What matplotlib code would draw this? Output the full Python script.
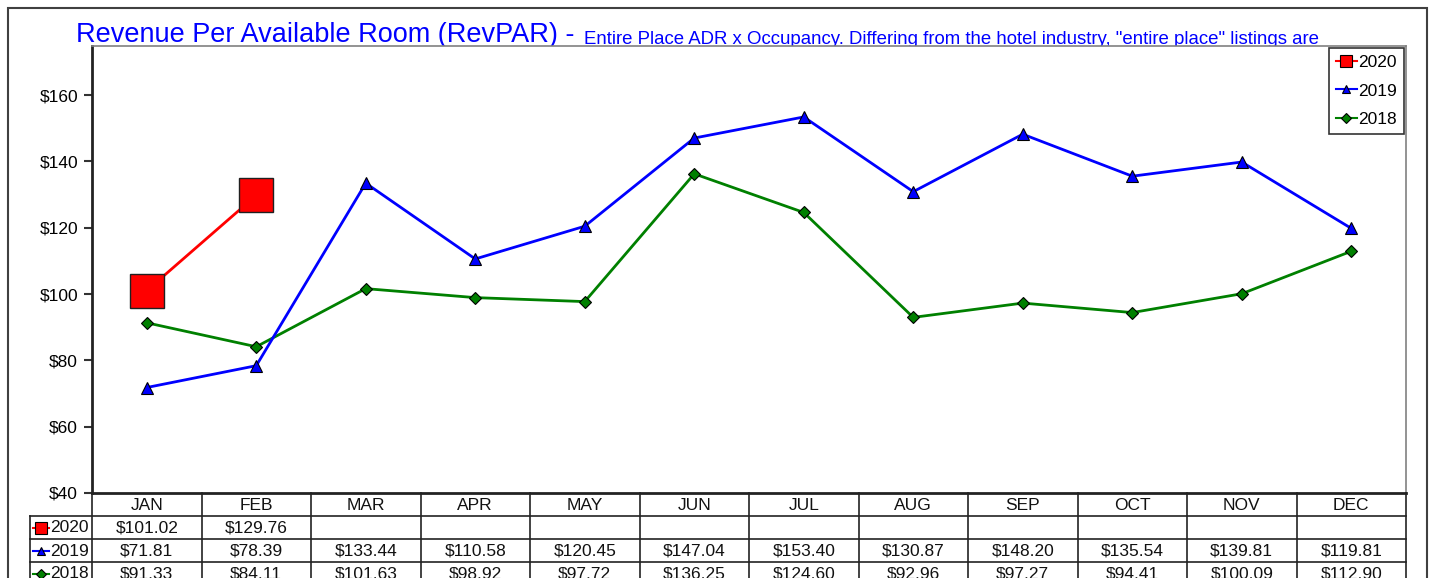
import matplotlib
matplotlib.use("Agg")
import matplotlib.pyplot as plt
from matplotlib.lines import Line2D
from matplotlib.patches import Rectangle

months = ["JAN", "FEB", "MAR", "APR", "MAY", "JUN", "JUL", "AUG", "SEP", "OCT", "NOV", "DEC"]
rev_2020 = [101.02, 129.76]
rev_2019 = [71.81, 78.39, 133.44, 110.58, 120.45, 147.04, 153.40, 130.87, 148.20, 135.54, 139.81, 119.81]
rev_2018 = [91.33, 84.11, 101.63, 98.92, 97.72, 136.25, 124.60, 92.96, 97.27, 94.41, 100.09, 112.90]
yticks = [40, 60, 80, 100, 120, 140, 160]
title_main = "Revenue Per Available Room (RevPAR) - "
title_sub = 'Entire Place ADR x Occupancy. Differing from the hotel industry, "entire place" listings are'

plt.rcParams['font.family'] = ['Liberation Sans', 'DejaVu Sans']

W, H = 1436, 578
fig = plt.figure(figsize=(W / 100, H / 100), dpi=100)

def fx(px):
    return px / W

def fy(py):
    return 1 - py / H

# outer frame
fig.patches.append(Rectangle((fx(8), fy(600)), fx(1427) - fx(8), fy(8) - fy(600),
                             transform=fig.transFigure, fill=False, edgecolor="#404040",
                             linewidth=1.5, zorder=-2))

L, R, T, B = 92, 1406, 46, 493
ax = fig.add_axes([fx(L), fy(B), fx(R) - fx(L), fy(T) - fy(B)])
ax.set_zorder(1)

x = list(range(12))
ax.plot(x[:len(rev_2018)], rev_2018, color="#008000", lw=2, marker="D", ms=6,
        mfc="#008000", mec="black", mew=0.8, label="2018", zorder=3)
ax.plot(x[:len(rev_2019)], rev_2019, color="#0000ff", lw=2, marker="^", ms=8,
        mfc="#0000ff", mec="black", mew=0.8, label="2019", zorder=4)
ax.plot(x[:len(rev_2020)], rev_2020, color="#ff0000", lw=2, marker="s", ms=25,
        mfc="#ff0000", mec="#202020", mew=1, label="2020", zorder=5)

ax.set_xlim(-0.5, 11.5)
ax.set_ylim(40, 174.8)
ax.set_yticks(yticks)
ax.set_yticklabels([f"${v}" for v in yticks], fontsize=12.5)
ax.set_xticks([])
ax.tick_params(axis="y", length=6, width=1.5, pad=4, color="#333333")
for s in ["left", "bottom"]:
    ax.spines[s].set_linewidth(2)
    ax.spines[s].set_color("#222222")
for s in ["top", "right"]:
    ax.spines[s].set_linewidth(1.2)
    ax.spines[s].set_color("#808080")

handles = [
    Line2D([], [], color="#ff0000", lw=1.5, marker="s", ms=8, mfc="#ff0000", mec="black", mew=0.8),
    Line2D([], [], color="#0000ff", lw=1.5, marker="^", ms=6, mfc="#0000ff", mec="black", mew=0.8),
    Line2D([], [], color="#008000", lw=1.5, marker="D", ms=5, mfc="#008000", mec="black", mew=0.8),
]
leg = ax.legend(handles, ["2020", "2019", "2018"], loc="upper right", bbox_to_anchor=(1.0, 1.0),
                fontsize=12.5, handlelength=1.2, handletextpad=0.1, labelspacing=0.78,
                borderpad=0.4, borderaxespad=0.1, fancybox=False, framealpha=1,
                edgecolor="#333333")
leg.get_frame().set_linewidth(1.2)

# title (partly hidden by plot area, as in reference)
fig.text(fx(76), fy(42), title_main, fontsize=19.5, color="#0000ff", va="baseline", ha="left", zorder=-1)
fig.text(fx(584), fy(44), title_sub, fontsize=13.4, color="#0000ff", va="baseline", ha="left", zorder=-1)

# data table
colw = (R - L) / 12
row_top = [493, 516, 539, 562]
rowh = 23
lab_l = 30
line_kw = dict(transform=fig.transFigure, color="#222222", lw=1.2, zorder=6)

for i in range(13):
    xx = L + i * colw
    fig.add_artist(Line2D([fx(xx), fx(xx)], [fy(493), fy(600)], **line_kw))
fig.add_artist(Line2D([fx(lab_l), fx(lab_l)], [fy(516), fy(600)], **line_kw))
for yy in (516, 539, 562):
    fig.add_artist(Line2D([fx(lab_l), fx(R)], [fy(yy), fy(yy)], **line_kw))

for i, m in enumerate(months):
    fig.text(fx(L + (i + 0.5) * colw), fy(505), m, ha="center", va="center", fontsize=12.5, color="#111111")

series = [("2020", rev_2020, handles[0]), ("2019", rev_2019, handles[1]), ("2018", rev_2018, handles[2])]
for r, (name, vals, h) in enumerate(series):
    yc = row_top[r + 1] + rowh / 2 + 0.5
    fig.add_artist(Line2D([fx(lab_l + 3), fx(lab_l + 19)], [fy(yc), fy(yc)], color=h.get_color(),
                          lw=1.5, transform=fig.transFigure, zorder=7))
    fig.add_artist(Line2D([fx(lab_l + 11)], [fy(yc)], marker=h.get_marker(), ms=h.get_markersize(),
                          mfc=h.get_markerfacecolor(), mec="black", mew=0.8, linestyle="none",
                          transform=fig.transFigure, zorder=8))
    fig.text(fx(lab_l + 20), fy(yc), name, ha="left", va="center", fontsize=12.5, color="#111111")
    for i, v in enumerate(vals):
        fig.text(fx(L + (i + 0.5) * colw), fy(yc), f"${v:,.2f}", ha="center", va="center",
                 fontsize=12.5, color="#111111")

fig.savefig("out.png", dpi=100)
